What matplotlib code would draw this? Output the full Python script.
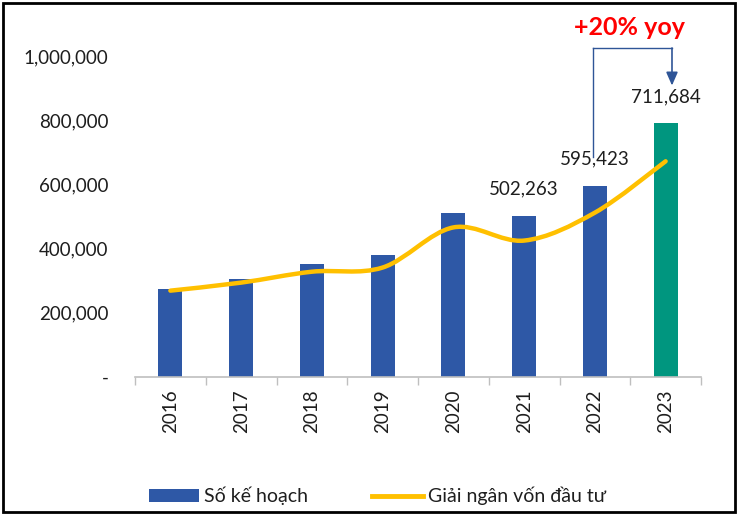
import matplotlib
matplotlib.use("Agg")
import matplotlib.pyplot as plt
from matplotlib.path import Path
from matplotlib.patches import PathPatch, Rectangle, Patch
from matplotlib.lines import Line2D
from matplotlib.ticker import FuncFormatter, FixedLocator

years = ["2016", "2017", "2018", "2019", "2020", "2021", "2022", "2023"]
plan_values = [275000, 306000, 353000, 381000, 512000, 502263, 595423, 790000]
disbursed_values = [269000, 294000, 328000, 341000, 466000, 425000, 512000, 672000]
bar_labels = {5: "502,263", 6: "595,423", 7: "711,684"}
yoy_text = "+20% yoy"
legend_labels = ["Số kế hoạch", "Giải ngân vốn đầu tư"]

FONT = ["Lato", "DejaVu Sans"]
plt.rcParams["font.family"] = FONT
TXT = "#1E1E1E"

fig = plt.figure(figsize=(7.38, 5.15), dpi=100)
ax = fig.add_axes([135/738, 1 - 377/515, (701-135)/738, (377-56)/515])

x = list(range(len(years)))
colors = ["#2E58A6"] * (len(years) - 1) + ["#00967F"]
ax.bar(x, plan_values, width=0.34, color=colors, zorder=2)

# smooth line (Excel-like Catmull-Rom bezier through the data points)
pts = list(zip(x, disbursed_values))
verts = [pts[0]]
codes = [Path.MOVETO]
n = len(pts)
for i in range(n - 1):
    p0 = pts[i - 1] if i > 0 else pts[i]
    p1 = pts[i]
    p2 = pts[i + 1]
    p3 = pts[i + 2] if i + 2 < n else pts[i + 1]
    c1 = (p1[0] + (p2[0] - p0[0]) / 6, p1[1] + (p2[1] - p0[1]) / 6)
    c2 = (p2[0] - (p3[0] - p1[0]) / 6, p2[1] - (p3[1] - p1[1]) / 6)
    verts += [c1, c2, p2]
    codes += [Path.CURVE4] * 3
ax.add_patch(PathPatch(Path(verts, codes), facecolor="none", edgecolor="#FFC000",
                       lw=3.2, capstyle="round", zorder=3, transform=ax.transData))

ax.set_xlim(-0.5, len(years) - 0.5)
ax.set_ylim(0, 1000000)
ax.set_yticks([0, 200000, 400000, 600000, 800000, 1000000])
ax.yaxis.set_major_formatter(FuncFormatter(lambda v, p: "-" if v == 0 else f"{int(v):,}"))
ax.tick_params(axis="y", length=0, pad=19, labelsize=13.5, labelcolor=TXT)
ax.set_xticks(x)
ax.set_xticklabels(years, rotation=90, fontsize=13.5, color=TXT)
ax.tick_params(axis="x", length=0, pad=9)
ax.xaxis.set_minor_locator(FixedLocator([i - 0.5 for i in range(len(years) + 1)]))
ax.tick_params(axis="x", which="minor", length=6, color="#BFBFBF", width=1)
for s in ["left", "right", "top"]:
    ax.spines[s].set_visible(False)
ax.spines["bottom"].set_color("#BFBFBF")
ax.spines["bottom"].set_linewidth(1.2)

for i, t in bar_labels.items():
    ax.annotate(t, (i, plan_values[i]), xytext=(0, 13),
                textcoords="offset points", ha="center", va="bottom", fontsize=13.5,
                color=TXT)

# annotation arrow
ac = "#2F5597"
ax.plot([5.97, 5.97], [685000, 1025000], color=ac, lw=1, clip_on=False, zorder=4)
ax.plot([5.97, 7.09], [1025000, 1025000], color=ac, lw=1, clip_on=False, zorder=4)
ax.annotate("", xy=(7.09, 908000), xytext=(7.09, 1025000),
            arrowprops=dict(arrowstyle="-|>,head_width=0.35,head_length=0.8", color=ac, lw=1.2,
                            shrinkA=0, shrinkB=0),
            annotation_clip=False)
ax.text(6.49, 1090000, yoy_text, color="#FF0000", fontsize=18, fontweight="bold",
        ha="center", va="center", clip_on=False)

handles = [Patch(facecolor="#2E58A6"), Line2D([0], [0], color="#FFC000", lw=3.5)]
fig.legend(handles, legend_labels, loc="center",
           bbox_to_anchor=(0.511, 1 - 496/515), ncol=2, frameon=False, fontsize=14,
           handlelength=2.6, handleheight=0.65, columnspacing=3.3, handletextpad=0.25,
           labelcolor=TXT)

fig.patches.append(Rectangle((0.004, 0.006), 0.992, 0.988, transform=fig.transFigure,
                             fill=False, edgecolor="black", lw=2))
fig.savefig("out.png", dpi=100)
